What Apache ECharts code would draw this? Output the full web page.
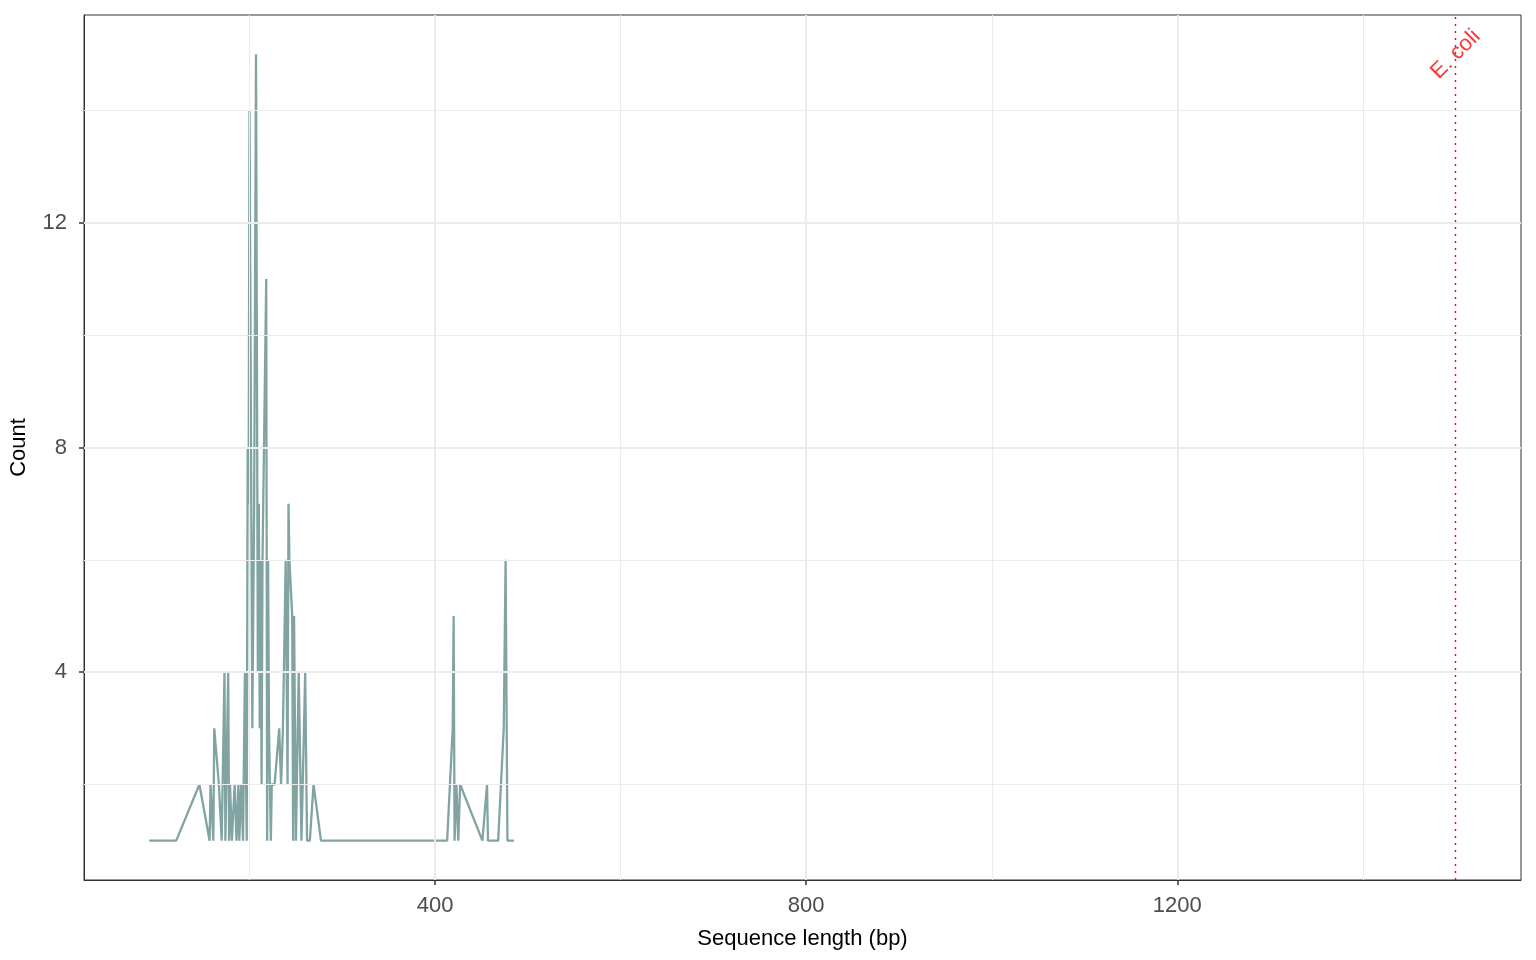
<!DOCTYPE html>
<html>
<head>
<meta charset="utf-8">
<script src="https://cdn.jsdelivr.net/npm/echarts@6/dist/echarts.min.js"></script>
<style>html,body{margin:0;padding:0;background:#fff;}#c{width:1536px;height:960px;}</style>
</head>
<body>
<div id="c"></div>
<script>
const lengths = [92,121,146,157,158,161,162,167,170,171,173,174,177,178,179,181,184,186,188,189,191,193,195,197,198,199,200,203,205,207,209,210,211,212,213,214,218,219,220,221,223,224,225,226,227,228,232,234,236,237,239,241,242,243,245,246,247,248,250,253,256,260,262,265,269,277,413,419,420,421,423,425,427,451,456,457,468,474,476,478,485];
const counts = [1,1,2,1,2,1,3,2,1,2,4,1,4,1,2,1,2,1,2,1,2,1,4,1,8,7,14,3,7,15,4,7,3,6,2,6,11,1,6,3,1,2,2,2,2,2,3,2,3,3,6,2,7,6,6,5,1,5,1,4,1,4,1,1,2,1,1,3,5,1,2,1,2,1,2,1,1,3,6,1,1];
const xTicks = [400, 800, 1200];
const xMinor = [200, 600, 1000, 1400];
const yTicks = [4, 8, 12];
const yMinor = [2, 6, 10, 14];
const refX = 1500;
const refLabel = 'E. coli';
const refLabelY = 15;

const font = 'Liberation Sans, Arial, Helvetica, sans-serif';
const chart = echarts.init(document.getElementById('c'));
const gridColor = '#EBEBEB';
const gl = [];
xTicks.forEach(v => gl.push({xAxis: v, lineStyle: {color: gridColor, width: 2, type: 'solid'}}));
xMinor.forEach(v => gl.push({xAxis: v, lineStyle: {color: gridColor, width: 1, type: 'solid'}}));
yTicks.forEach(v => gl.push({yAxis: v, lineStyle: {color: gridColor, width: 2, type: 'solid'}}));
yMinor.forEach(v => gl.push({yAxis: v, lineStyle: {color: gridColor, width: 1, type: 'solid'}}));

chart.setOption({
  animation: false,
  backgroundColor: '#fff',
  grid: {left: 83, right: 15, top: 15, bottom: 80, show: true, borderColor: '#333333', borderWidth: 1, backgroundColor: '#fff', containLabel: false},
  xAxis: {
    type: 'value', min: 21.6, max: 1570.4,
    name: 'Sequence length (bp)', nameLocation: 'middle', nameGap: 48,
    nameTextStyle: {color: '#000', fontSize: 22, fontFamily: font},
    axisLine: {show: true, onZero: false, lineStyle: {color: '#333333', width: 1}},
    axisTick: {show: true, inside: false, length: 5, customValues: xTicks, lineStyle: {color: '#333333', width: 1.5}},
    axisLabel: {customValues: xTicks, color: '#4D4D4D', fontSize: 22, fontFamily: font, margin: 15, formatter: v => String(v)},
    splitLine: {show: false}
  },
  yAxis: {
    type: 'value', min: 0.3, max: 15.7,
    name: 'Count', nameLocation: 'middle', nameGap: 54, nameRotate: 90,
    nameTextStyle: {color: '#000', fontSize: 22, fontFamily: font},
    axisLine: {show: true, onZero: false, lineStyle: {color: '#333333', width: 1}},
    axisTick: {show: true, inside: false, length: 5, customValues: yTicks, lineStyle: {color: '#333333', width: 1.5}},
    axisLabel: {customValues: yTicks, color: '#4D4D4D', fontSize: 22, fontFamily: font, margin: 17, formatter: v => String(v)},
    splitLine: {show: false}
  },
  series: [
    {
      type: 'line', data: [], z: 1, silent: true,
      markLine: {silent: true, symbol: 'none', label: {show: false}, data: gl, animation: false}
    },
    {
      type: 'line', z: 3,
      data: lengths.map((l, i) => [l, counts[i]]),
      showSymbol: false, symbol: 'none',
      lineStyle: {color: '#81A4A3', width: 2.3},
      itemStyle: {color: '#81A4A3'},
      markLine: {
        silent: true, symbol: 'none', label: {show: false},
        data: [{xAxis: refX}],
        lineStyle: {color: '#FF0000', type: [2, 5], width: 1.4}
      }
    },
    {
      type: 'scatter', z: 4, symbolSize: 0,
      data: [[refX, refLabelY]],
      label: {show: true, position: 'inside', formatter: refLabel, rotate: 45, color: '#FF0000', fontSize: 22, fontFamily: font}
    }
  ]
});
</script>
</body>
</html>
